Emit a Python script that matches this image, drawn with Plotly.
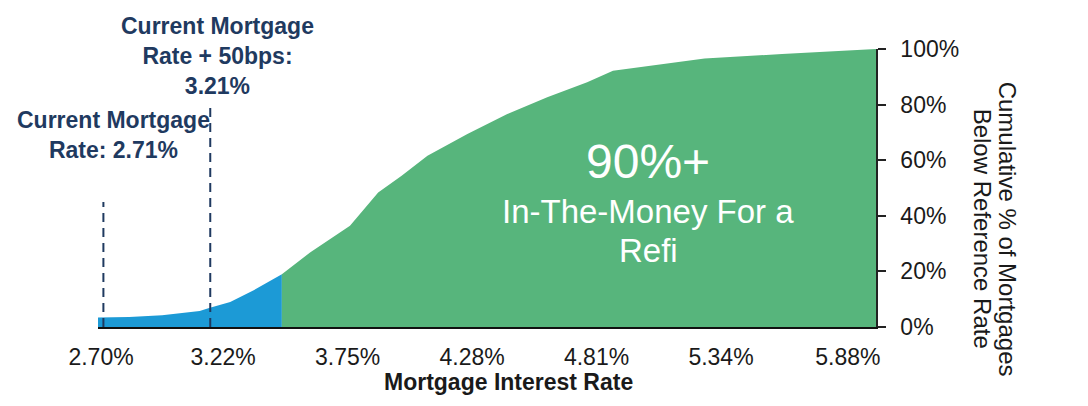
import plotly.graph_objects as go

# ---- data ----
blue_rate = [2.687, 2.82, 2.96, 3.12, 3.16, 3.25, 3.35, 3.47]
blue_pct = [3.4, 3.6, 4.2, 5.8, 6.8, 9.0, 13.2, 19.0]

green_rate = [3.47, 3.59, 3.76, 3.88, 3.98, 4.09, 4.26, 4.43, 4.60, 4.77, 4.88,
              5.10, 5.27, 5.60, 6.00]
green_pct = [19.0, 26.8, 36.4, 48.4, 54.4, 61.6, 69.4, 76.6, 82.6, 88.0, 92.2,
             94.6, 96.6, 98.2, 100.0]

x_tickvals = [2.70, 3.22, 3.75, 4.28, 4.81, 5.34, 5.88]
x_ticktext = ["2.70%", "3.22%", "3.75%", "4.28%", "4.81%", "5.34%", "5.88%"]
y_tickvals = [0, 20, 40, 60, 80, 100]
y_ticktext = ["0%", "20%", "40%", "60%", "80%", "100%"]

marker_rates = [2.71, 3.165]
marker_tops = [45, 79]
marker_labels = ["Current Mortgage<br>Rate: 2.71%",
                 "Current Mortgage<br>Rate + 50bps:<br>3.21%"]

FONT = "Liberation Sans, Arial, sans-serif"
NAVY = "#1F3A60"
BLUE = "#1C9AD6"
GREEN = "#57B57C"
TXT = "#1a1a1a"

fig = go.Figure()
fig.add_trace(go.Scatter(x=blue_rate, y=blue_pct, mode="lines", fill="tozeroy",
                         fillcolor=BLUE, line=dict(width=0, color=BLUE),
                         hoverinfo="skip", showlegend=False))
fig.add_trace(go.Scatter(x=green_rate, y=green_pct, mode="lines", fill="tozeroy",
                         fillcolor=GREEN, line=dict(width=0, color=GREEN),
                         hoverinfo="skip", showlegend=False))
for r, t in zip(marker_rates, marker_tops):
    fig.add_trace(go.Scatter(x=[r, r], y=[0, t], mode="lines",
                             line=dict(color=NAVY, width=2, dash="9px,6px"),
                             hoverinfo="skip", showlegend=False))

# labels for the dashed markers
fig.add_annotation(x=marker_rates[0], y=0.80, xref="x", yref="paper", xshift=10,
                   text=marker_labels[0], showarrow=False, xanchor="center",
                   yanchor="top", align="center",
                   font=dict(family=FONT, size=23, color=NAVY, weight="bold"))
fig.add_annotation(x=marker_rates[1], y=1.135, xref="x", yref="paper", xshift=7,
                   text=marker_labels[1], showarrow=False, xanchor="center",
                   yanchor="top", align="center",
                   font=dict(family=FONT, size=23, color=NAVY, weight="bold"))

# white text in the green area
fig.add_annotation(x=5.03, y=59.5, xref="x", yref="y", text="90%+", showarrow=False,
                   xanchor="center", yanchor="middle",
                   font=dict(family=FONT, size=48, color="white"))
fig.add_annotation(x=5.03, y=41.4, xref="x", yref="y", text="In-The-Money For a",
                   showarrow=False, xanchor="center", yanchor="middle",
                   font=dict(family=FONT, size=33, color="white"))
fig.add_annotation(x=5.03, y=27.5, xref="x", yref="y", text="Refi",
                   showarrow=False, xanchor="center", yanchor="middle",
                   font=dict(family=FONT, size=33, color="white"))

# axis titles
fig.add_annotation(x=0.527, y=-0.199, xref="paper", yref="paper",
                   text="Mortgage Interest Rate", showarrow=False,
                   xanchor="center", yanchor="middle",
                   font=dict(family=FONT, size=23, color=TXT, weight="bold"))
fig.add_annotation(x=(1007 - 98) / 778, y=(327.5 - 229) / 278.5, xref="paper",
                   yref="paper", textangle=90, text="Cumulative % of Mortgages",
                   showarrow=False, xanchor="center", yanchor="middle",
                   font=dict(family=FONT, size=24, color=TXT))
fig.add_annotation(x=(982 - 98) / 778, y=(327.5 - 229) / 278.5, xref="paper",
                   yref="paper", textangle=90, text="Below Reference Rate",
                   showarrow=False, xanchor="center", yanchor="middle",
                   font=dict(family=FONT, size=24, color=TXT))

fig.update_layout(
    width=1088, height=406,
    margin=dict(l=90, r=220, t=41, b=86.5),
    paper_bgcolor="white", plot_bgcolor="white",
    font=dict(family=FONT, size=23, color=TXT),
    xaxis=dict(range=[2.687, 6.0], tickvals=x_tickvals, ticktext=x_ticktext,
               showgrid=False, zeroline=False, showline=True, linecolor="#111",
               linewidth=2, ticks="", ticklabelstandoff=8,
               tickfont=dict(size=23, color=TXT)),
    yaxis=dict(range=[0, 100], side="right", tickvals=y_tickvals,
               ticktext=y_ticktext, showgrid=False, zeroline=False,
               showline=True, linecolor="#222", linewidth=1.5, ticks="outside",
               ticklen=8, tickcolor="#222", tickwidth=1.5, ticklabelstandoff=10,
               tickfont=dict(size=23, color=TXT)),
)

fig.write_html("out.html")
